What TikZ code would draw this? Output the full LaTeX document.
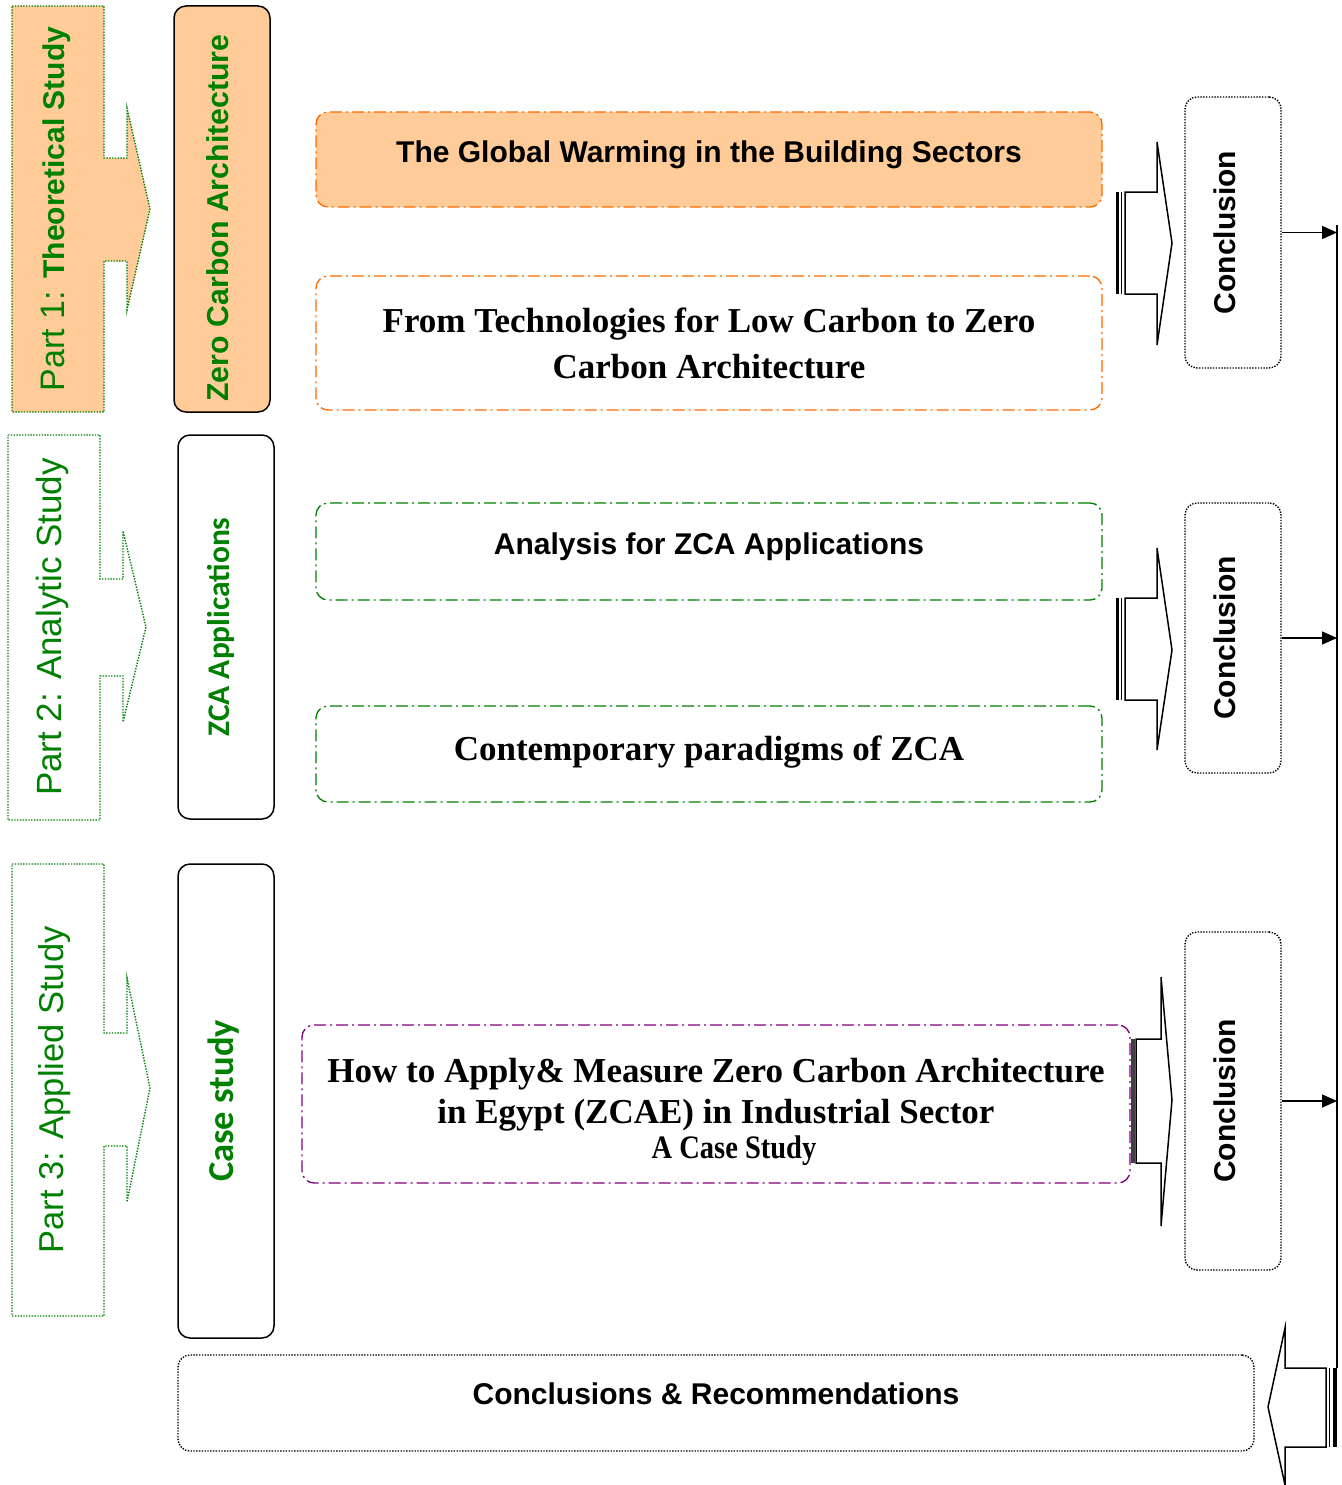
\documentclass[tikz,border=0pt]{standalone}
\usepackage{graphicx}
\usepackage{fontspec}
\setmainfont{Liberation Serif}
\setsansfont{Liberation Sans}
\newfontfamily\carlito{Carlito}
\usetikzlibrary{arrows.meta}
\definecolor{peach}{HTML}{FFCC99}
\definecolor{dgreen}{HTML}{008000}
\definecolor{orng}{HTML}{FF6A00}
\definecolor{purp}{HTML}{800080}
\newcommand{\fsz}[1]{\fontsize{#1}{#1}\selectfont}
% vertical text, shifted right by #1 and down by #2
\newcommand{\vtext}[3]{\hspace*{#1}\hspace*{#1}\rotatebox{90}{\hspace*{-#2}\hspace*{-#2}#3}}
% single line with baseline #1 below node centre
\newcommand{\oneline}[2]{\raisebox{-#1}[0pt][0pt]{#2}}
\begin{document}
\begin{tikzpicture}[x=1pt,y=-1pt,
  dashdot/.style={dash pattern=on 12pt off 4pt on 2pt off 4pt, line width=1.3pt},
  dotline/.style={dash pattern=on 1.4pt off 1.4pt, line width=1.4pt},
  partarrow/.style={draw=dgreen, dotline},
  partlabel/.style={inner sep=0pt, text=dgreen, font=\sffamily},
  vbox/.style={draw=black, line width=1.5pt, rounded corners=12pt, minimum width=96pt, inner sep=0pt, text=dgreen},
  hbox/.style={rounded corners=12pt, minimum width=786pt, inner sep=0pt, align=center, dashdot},
  concl/.style={draw=black, dotline, rounded corners=12pt, minimum width=96pt, inner sep=0pt, font=\sffamily\bfseries\fsz{30}},
  blockarrow/.style={draw=black, fill=white, line width=1.5pt, line join=miter},
  arr/.style={line width=1.5pt, -{Triangle[length=15pt,width=13pt]}}
]
\useasboundingbox (0,0) rectangle (1341,1485);

% ---------- Part arrows ----------
\path[partarrow, fill=peach] (12,6) -- (104,6) -- (104,158) -- (127,158) -- (127,108) -- (150,209) -- (127,310) -- (127,261) -- (104,261) -- (104,412) -- (12,412) -- cycle;
\node[partlabel] (p1) at (58,209) {\vtext{-2pt}{0pt}{\fsz{34}Part 1: \fsz{30}\bfseries Theoretical Study}};

\path[partarrow] (8,435) -- (100,435) -- (100,579) -- (123,579) -- (123,531) -- (146,627) -- (123,722) -- (123,676) -- (100,676) -- (100,820) -- (8,820) -- cycle;
\node[partlabel] (p2) at (54,627) {\vtext{-2pt}{0pt}{\fsz{35}Part 2: Analytic Study}};

\path[partarrow] (12,864) -- (104,864) -- (104,1033) -- (127,1033) -- (127,978) -- (150,1088) -- (127,1202) -- (127,1146) -- (104,1146) -- (104,1316) -- (12,1316) -- cycle;
\node[partlabel] (p3) at (58,1090) {\vtext{-3pt}{0pt}{\fsz{34.5}Part 3: Applied Study}};

% ---------- vertical topic boxes ----------
\node[vbox, fill=peach, minimum height=406pt] (zca) at (222,209) {\vtext{-4pt}{9pt}{\sffamily\bfseries\fsz{30.3}Zero Carbon Architecture}};
\node[vbox, minimum height=384pt] (app) at (226,627) {\vtext{-5pt}{0pt}{\carlito\bfseries\fsz{31.5}ZCA Applications}};
\node[vbox, minimum height=474pt] (cs) at (226,1101) {\vtext{-2pt}{0pt}{\carlito\bfseries\fsz{36.5}Case study}};

% ---------- horizontal boxes ----------
\node[hbox, draw=orng, fill=peach, minimum height=95pt, font=\sffamily\bfseries\fsz{30}] (b1) at (709,159.5) {\oneline{2.5pt}{The Global Warming in the Building Sectors}};
\node[hbox, draw=orng, minimum height=134pt, font=\bfseries\fontsize{35}{46}\selectfont] (b2) at (709,343) {From Technologies for Low Carbon to Zero\\Carbon Architecture};
\node[hbox, draw=dgreen, minimum height=97pt, font=\sffamily\bfseries\fsz{30}] (b3) at (709,551.5) {\oneline{2.5pt}{Analysis for ZCA Applications}};
\node[hbox, draw=dgreen, minimum height=96pt, font=\bfseries\fsz{35}] (b4) at (709,754) {\oneline{6.5pt}{Contemporary paradigms of ZCA}};
\node[hbox, draw=purp, minimum width=828pt, minimum height=158pt, font=\bfseries\fontsize{35}{41}\selectfont] (b5) at (716,1104) {\raisebox{22pt}[0pt][0pt]{\begin{tabular}[t]{@{}c@{}}How to Apply\& Measure Zero Carbon Architecture\\in Egypt (ZCAE) in Industrial Sector\\[-6pt]\hspace*{36pt}\fontsize{28.5}{34}\selectfont\scalebox{1}[1.15]{A Case Study}\end{tabular}}};

% ---------- conclusion boxes ----------
\node[concl, minimum height=271pt] (c1) at (1233,232.5) {\vtext{-8pt}{0pt}{Conclusion}};
\node[concl, minimum height=270pt] (c2) at (1233,638) {\vtext{-8pt}{0pt}{Conclusion}};
\node[concl, minimum height=338pt] (c3) at (1233,1101) {\vtext{-8pt}{0pt}{Conclusion}};

\node[concl, minimum width=1076pt, minimum height=96pt] (fin) at (716,1403) {\oneline{1pt}{Conclusions \& Recommendations}};

% ---------- block arrows ----------
\path[blockarrow] (1125,192) -- (1157,192) -- (1157,142) -- (1172,243) -- (1157,345) -- (1157,294) -- (1125,294) -- cycle;
\draw[line width=3pt] (1117,192) -- (1117,294);
\draw[line width=1.5pt] (1121.5,192) -- (1121.5,294);

\path[blockarrow] (1125,598) -- (1157,598) -- (1157,548) -- (1172,650) -- (1157,750) -- (1157,700) -- (1125,700) -- cycle;
\draw[line width=3pt] (1117,598) -- (1117,700);
\draw[line width=1.5pt] (1121.5,598) -- (1121.5,700);

\path[blockarrow] (1136,1039) -- (1161,1039) -- (1161,977) -- (1172,1100) -- (1161,1226) -- (1161,1163) -- (1136,1163) -- cycle;
\draw[line width=4pt, black!75] (1133,1039) -- (1133,1163);

\path[blockarrow] (1326,1368) -- (1285,1368) -- (1285,1328) -- (1268,1407) -- (1285,1485) -- (1285,1447) -- (1326,1447) -- cycle;
\draw[line width=1.5pt] (1329.5,1368) -- (1329.5,1447);
\draw[line width=4pt] (1335,1368) -- (1335,1447);

% ---------- rail and connectors ----------
\coordinate (railtop) at (1337,225);
\coordinate (railbot) at (1337,1368);
\draw[line width=1.5pt] (railtop) -- (railbot);
\draw[arr] (c1.east) -- (c1.east -| railtop);
\draw[arr] (c2.east) -- (c2.east -| railtop);
\draw[arr] (c3.east) -- (c3.east -| railtop);
\end{tikzpicture}
\end{document}
